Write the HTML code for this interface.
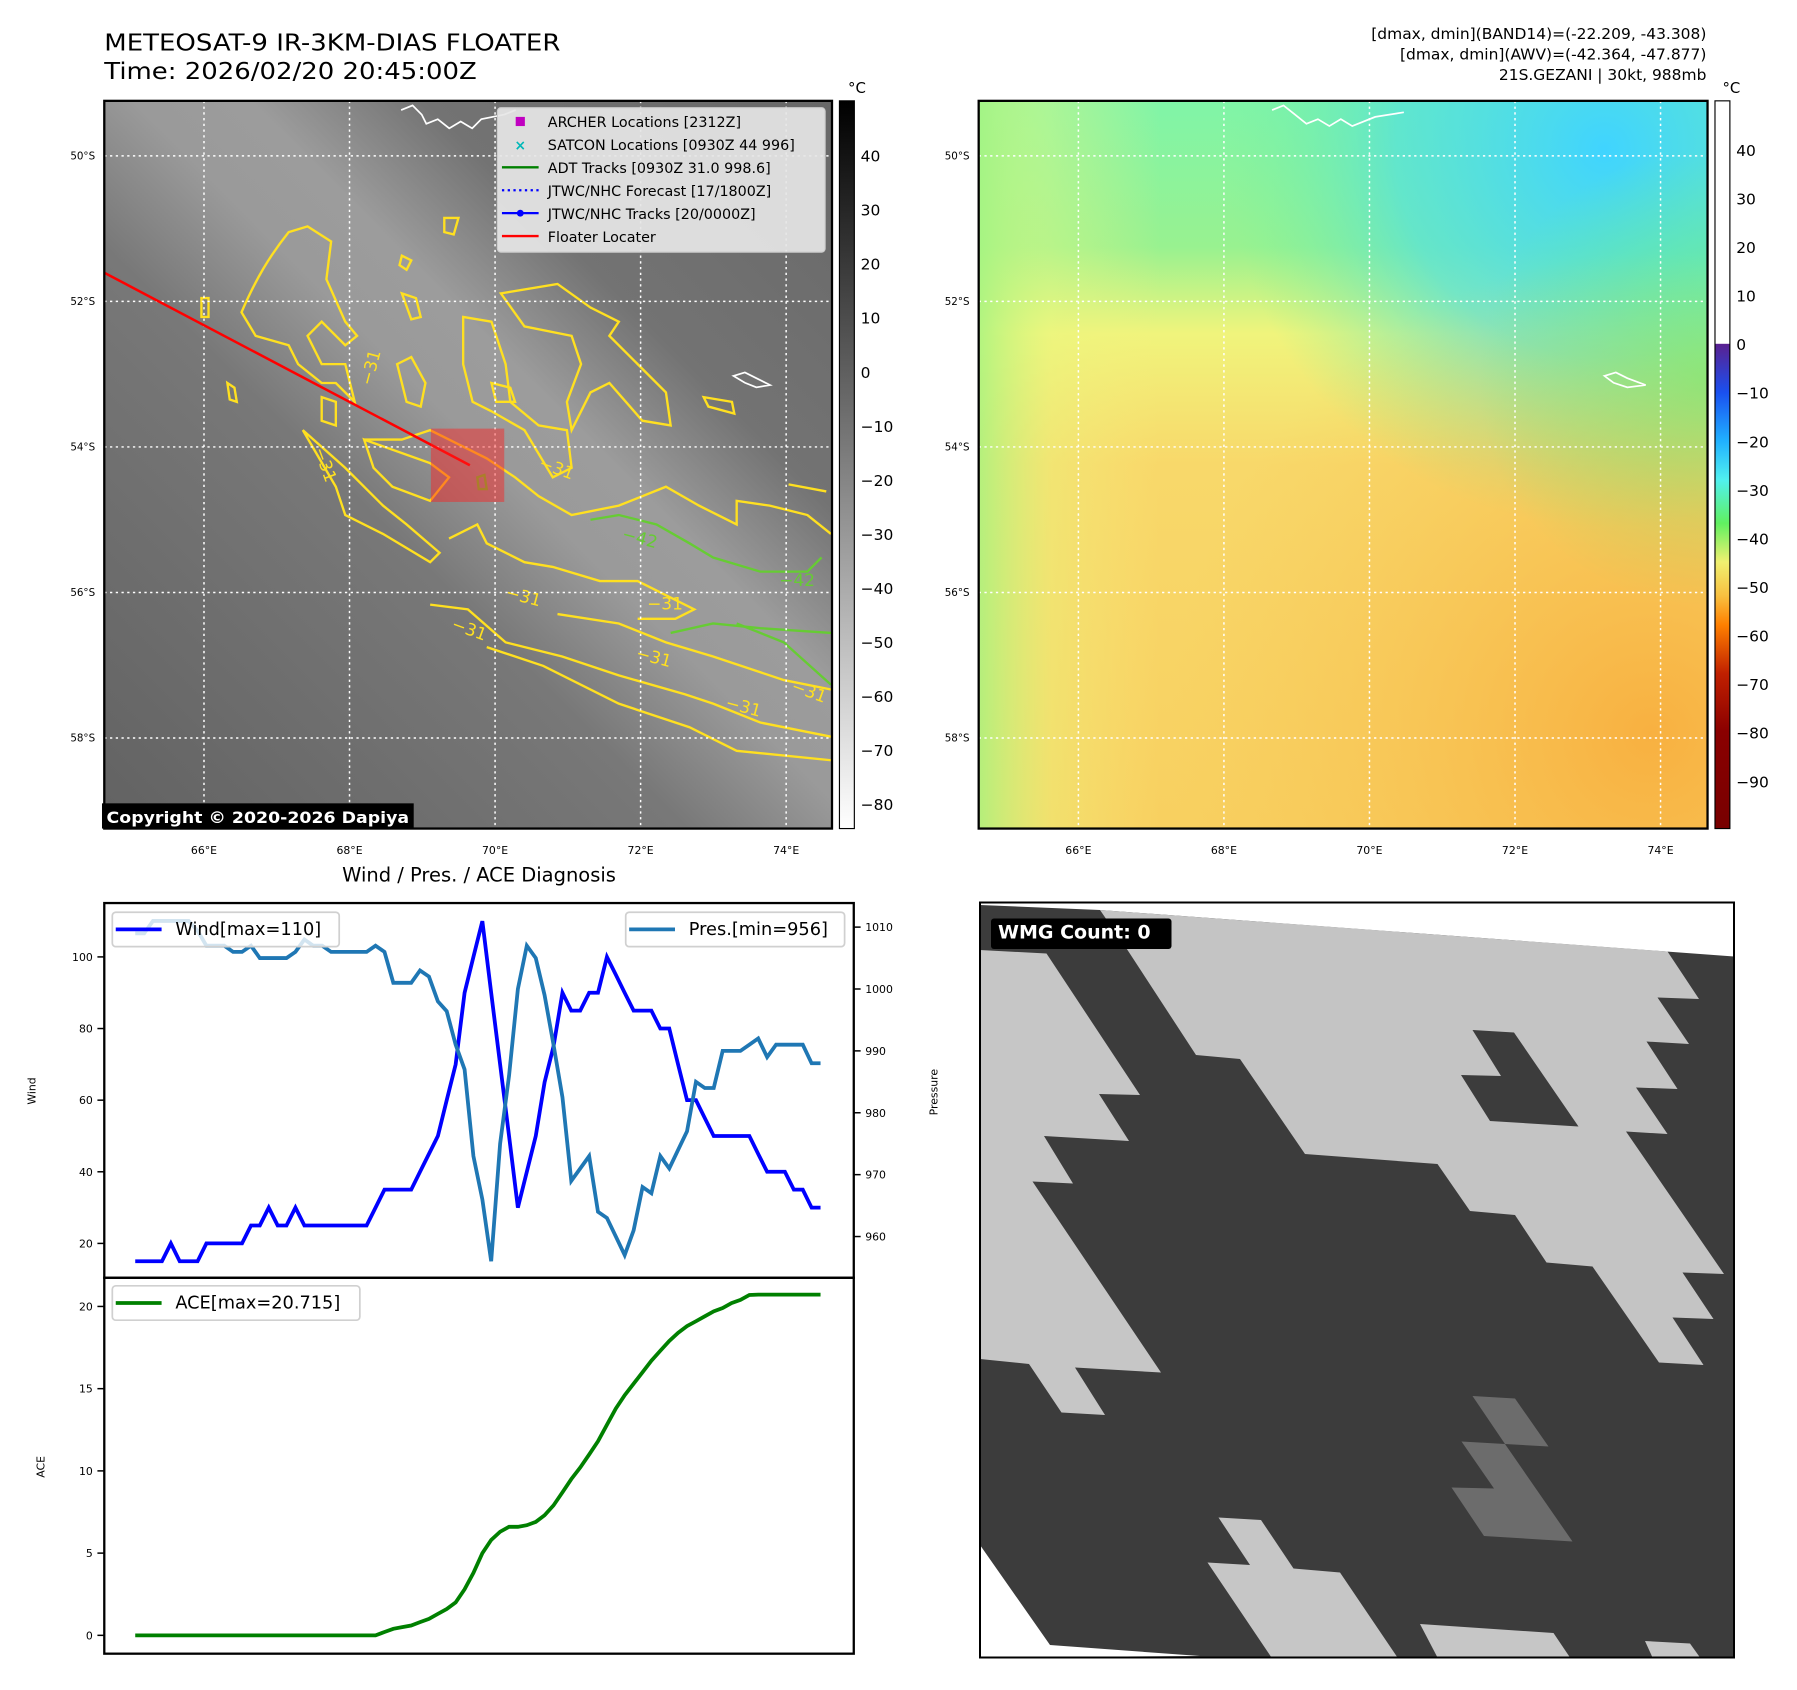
<!DOCTYPE html>
<html><head><meta charset="utf-8"><style>
html,body{margin:0;padding:0;background:#fff}
svg{display:block}
text{font-family:"DejaVu Sans","Liberation Sans",sans-serif}
</style></head><body>
<svg id="fig" width="1797" height="1690" viewBox="0 0 1797 1690" xmlns="http://www.w3.org/2000/svg">
<defs>
<linearGradient id="irbg" x1="1" y1="0" x2="0" y2="1">
<stop offset="0" stop-color="#686868"/><stop offset="0.28" stop-color="#737373"/><stop offset="0.4" stop-color="#9c9c9c"/><stop offset="0.48" stop-color="#9a9a9a"/><stop offset="0.6" stop-color="#787878"/><stop offset="1" stop-color="#626262"/>
</linearGradient>
<linearGradient id="awvbg" x1="0" y1="0" x2="0" y2="1">
<stop offset="0" stop-color="#80f4a8"/><stop offset="0.2" stop-color="#98f290"/><stop offset="0.32" stop-color="#f0f47c"/><stop offset="0.5" stop-color="#f8d86a"/><stop offset="1" stop-color="#f8d060"/>
</linearGradient>
<radialGradient id="awvcyan" cx="1400" cy="130" r="330" gradientUnits="userSpaceOnUse">
<stop offset="0" stop-color="#40d4ff" stop-opacity="1"/><stop offset="0.55" stop-color="#50e0e0" stop-opacity="0.7"/><stop offset="1" stop-color="#70f0a0" stop-opacity="0"/>
</radialGradient>
<radialGradient id="awvorange" cx="1440" cy="640" r="420" gradientUnits="userSpaceOnUse">
<stop offset="0" stop-color="#f8a838" stop-opacity="0.8"/><stop offset="1" stop-color="#f8c050" stop-opacity="0"/>
</radialGradient>
<radialGradient id="awvgreenr" cx="1490" cy="330" r="200" gradientUnits="userSpaceOnUse">
<stop offset="0" stop-color="#70f080" stop-opacity="0.9"/><stop offset="1" stop-color="#70f080" stop-opacity="0"/>
</radialGradient>
<linearGradient id="awvleft" x1="0" y1="0" x2="1" y2="0">
<stop offset="0" stop-color="#a8f480" stop-opacity="0.85"/><stop offset="0.1" stop-color="#e8f880" stop-opacity="0.4"/><stop offset="0.25" stop-color="#f8f080" stop-opacity="0"/>
</linearGradient>
<linearGradient id="cb1" x1="0" y1="0" x2="0" y2="1"><stop offset="0" stop-color="#000"/><stop offset="1" stop-color="#fff"/></linearGradient>
<linearGradient id="cb2" x1="0" y1="0" x2="0" y2="1">
<stop offset="0" stop-color="#5a2090"/><stop offset="0.1" stop-color="#1a50f0"/><stop offset="0.2" stop-color="#20b0ff"/><stop offset="0.28" stop-color="#50f0f0"/><stop offset="0.37" stop-color="#60f060"/><stop offset="0.45" stop-color="#f0f070"/><stop offset="0.52" stop-color="#f8c040"/><stop offset="0.58" stop-color="#ff8000"/><stop offset="0.68" stop-color="#c02000"/><stop offset="0.8" stop-color="#8a0000"/><stop offset="1" stop-color="#780000"/>
</linearGradient>
<clipPath id="clip1"><rect x="91" y="88" width="635" height="635"/></clipPath>
<clipPath id="clip3"><rect x="0" y="5" width="1508" height="1510"/></clipPath>
</defs>

<g transform="scale(1.146)">
<text x="91" y="44" font-size="20" textLength="398" lengthAdjust="spacingAndGlyphs">METEOSAT-9 IR-3KM-DIAS FLOATER</text>
<text x="91" y="69" font-size="20" textLength="325" lengthAdjust="spacingAndGlyphs">Time: 2026/02/20 20:45:00Z</text>
<text x="1489" y="34" font-size="13.5" text-anchor="end">[dmax, dmin](BAND14)=(-22.209, -43.308)</text>
<text x="1489" y="52" font-size="13.5" text-anchor="end">[dmax, dmin](AWV)=(-42.364, -47.877)</text>
<text x="1489" y="70" font-size="13.5" text-anchor="end">21S.GEZANI | 30kt, 988mb</text>

<!-- IR map -->
<g>
<rect x="91" y="88" width="635" height="635" fill="url(#irbg)"/>
<g clip-path="url(#clip1)">
<g transform="translate(87.3,87.3) scale(0.4115)" fill="none" stroke="#ffe020" stroke-width="5">
<path d="M300,450 C330,380 360,330 400,280 L440,268 L490,300 L480,380 L520,470 L545,500 L520,520 L470,470 L440,500 L470,560 L520,560 L540,640 L500,600 L470,600 L420,560 L400,520 L330,500 Z"/>
<path d="M770,460 L830,470 L860,560 L870,640 L930,690 L990,700 L1000,780 L960,800 L900,700 L830,660 L790,640 L770,560 Z"/>
<path d="M850,410 L970,390 L1040,440 L1100,470 L1080,500 L1140,560 L1200,620 L1210,690 L1150,680 L1080,600 L1040,620 L1000,700 L990,640 L1020,560 L1000,500 L900,480 Z"/>
<path d="M430,700 L500,820 L520,880 L600,920 L700,980 L720,960 L650,900 L600,860 L520,780 Z"/>
<path d="M560,720 L640,720 L700,700 L740,720 L820,760 L880,800 L930,840 L1000,880 L1100,860 L1200,820 L1270,860 L1350,900 L1350,850 L1420,860 L1500,880 L1550,920"/>
<path d="M740,930 L800,900 L820,940 L900,980 L960,990 L1060,1020 L1140,1020 L1260,1080 L1220,1100 L1140,1100"/>
<path d="M700,1070 L780,1080 L860,1150 L980,1180 L1100,1220 L1240,1260 L1300,1280 L1400,1320 L1550,1350"/>
<path d="M820,1160 L940,1200 L1100,1280 L1250,1330 L1350,1380 L1550,1400"/>
<path d="M970,1090 L1100,1110 L1200,1150 L1300,1180 L1450,1230 L1550,1250"/>
<path d="M630,560 L660,545 L690,600 L680,650 L650,640 Z"/>
<path d="M640,330 L660,340 L650,360 L635,350 Z"/>
<path d="M640,410 L670,420 L680,460 L660,465 Z"/>
<path d="M730,250 L760,250 L750,285 L730,280 Z"/>
<path d="M1280,630 L1340,640 L1345,665 L1290,650 Z"/>
<path d="M560,720 L700,770 L740,800 L700,850 L620,820 L580,780 Z"/>
<path d="M470,630 L500,640 L500,690 L470,680 Z"/>
<path d="M1460,815 L1540,830"/>
<path d="M830,600 L870,610 L880,640 L840,640 Z"/>
<path d="M215,420 L230,420 L230,460 L215,460 Z"/>
<path d="M270,600 L285,610 L290,640 L275,635 Z"/>
</g>
<g transform="translate(87.3,87.3) scale(0.4115)" fill="none" stroke="#66cc33" stroke-width="5">
<path d="M1040,890 L1100,880 L1180,900 L1250,940 L1300,970 L1400,1000 L1500,1000 L1530,970"/>
<path d="M1210,1130 L1300,1110 L1400,1120 L1550,1130"/>
<path d="M1350,1110 L1450,1150 L1550,1240"/>
<path d="M800,800 L815,795 L820,825 L803,825 Z"/>
</g>
<g transform="translate(87.3,87.3) scale(0.4115)" font-size="36" fill="#ffe020">
<text x="555" y="600" transform="rotate(-75 570 590)">−31</text>
<text x="440" y="760" transform="rotate(70 460 760)">−31</text>
<text x="930" y="790" transform="rotate(20 960 780)">−31</text>
<text x="860" y="1060" transform="rotate(15 880 1050)">−31</text>
<text x="1160" y="1080">−31</text>
<text x="745" y="1130" transform="rotate(20 770 1120)">−31</text>
<text x="1135" y="1190" transform="rotate(15 1160 1185)">−31</text>
<text x="1325" y="1295" transform="rotate(15 1350 1290)">−31</text>
<text x="1465" y="1265" transform="rotate(20 1500 1255)">−31</text>
<text x="1105" y="940" fill="#66cc33" transform="rotate(15 1140 935)">−42</text>
<text x="1440" y="1030" fill="#66cc33">−42</text>
</g>
<path d="M350,96 L360,92 L368,100 L372,108 L382,104 L392,112 L402,106 L412,112 L420,104 L440,100 L450,96 M640,328 L650,325 L660,330 L672,336 L660,338 L650,334 Z" fill="none" stroke="#fff" stroke-width="1.5"/>
<g stroke="#fff" stroke-width="1.3" stroke-dasharray="2,3">
<line x1="91" y1="136" x2="726" y2="136"/><line x1="91" y1="263" x2="726" y2="263"/><line x1="91" y1="390" x2="726" y2="390"/><line x1="91" y1="517" x2="726" y2="517"/><line x1="91" y1="644" x2="726" y2="644"/>
<line x1="178" y1="88" x2="178" y2="723"/><line x1="305" y1="88" x2="305" y2="723"/><line x1="432" y1="88" x2="432" y2="723"/><line x1="559" y1="88" x2="559" y2="723"/><line x1="686" y1="88" x2="686" y2="723"/>
</g>
<line x1="91" y1="238" x2="410" y2="406" stroke="#ff0000" stroke-width="2.2"/>
<rect x="376" y="374" width="64" height="64" fill="#ff2020" fill-opacity="0.45"/>
</g>
</g>
<g>
<rect x="434" y="94" width="286" height="126" rx="3" fill="#e6e6e6" fill-opacity="0.92" stroke="#ccc"/>
<rect x="450" y="102" width="8" height="8" fill="#c000c0"/>
<text x="454" y="131" font-size="12" fill="#00b8b8" text-anchor="middle" font-weight="bold">×</text>
<line x1="438" y1="146" x2="470" y2="146" stroke="#008000" stroke-width="2"/>
<line x1="438" y1="166" x2="470" y2="166" stroke="#0000ff" stroke-width="2" stroke-dasharray="2,3"/>
<line x1="438" y1="186" x2="470" y2="186" stroke="#0000ff" stroke-width="2"/><circle cx="454" cy="186" r="3" fill="#0000ff"/>
<line x1="438" y1="206" x2="470" y2="206" stroke="#ff0000" stroke-width="2"/>
<g font-size="12.5">
<text x="478" y="111">ARCHER Locations [2312Z]</text>
<text x="478" y="131">SATCON Locations [0930Z 44 996]</text>
<text x="478" y="151">ADT Tracks [0930Z 31.0 998.6]</text>
<text x="478" y="171">JTWC/NHC Forecast [17/1800Z]</text>
<text x="478" y="191">JTWC/NHC Tracks [20/0000Z]</text>
<text x="478" y="211">Floater Locater</text>
</g></g>
<rect x="91" y="88" width="635" height="635" fill="none" stroke="#000" stroke-width="2"/>
<rect x="89" y="701" width="272" height="22" fill="#000"/>
<text x="93" y="718" font-size="14" font-weight="bold" fill="#fff" textLength="264" lengthAdjust="spacingAndGlyphs">Copyright © 2020-2026 Dapiya</text>

<!-- AWV map -->
<g>
<rect x="854" y="88" width="636" height="635" fill="url(#awvbg)"/>
<rect x="854" y="88" width="636" height="635" fill="url(#awvcyan)"/>
<rect x="854" y="88" width="636" height="635" fill="url(#awvgreenr)"/>
<rect x="854" y="88" width="636" height="635" fill="url(#awvleft)"/>
<rect x="854" y="88" width="636" height="635" fill="url(#awvorange)"/>
<path d="M1110,96 L1120,92 L1130,100 L1140,108 L1150,104 L1160,110 L1170,104 L1180,110 L1200,102 L1225,98 M1400,328 L1410,325 L1420,330 L1436,336 L1420,338 L1408,334 Z" fill="none" stroke="#fff" stroke-width="1.5"/>
<g stroke="#fff" stroke-width="1.3" stroke-dasharray="2,3">
<line x1="854" y1="136" x2="1490" y2="136"/><line x1="854" y1="263" x2="1490" y2="263"/><line x1="854" y1="390" x2="1490" y2="390"/><line x1="854" y1="517" x2="1490" y2="517"/><line x1="854" y1="644" x2="1490" y2="644"/>
<line x1="941" y1="88" x2="941" y2="723"/><line x1="1068" y1="88" x2="1068" y2="723"/><line x1="1195" y1="88" x2="1195" y2="723"/><line x1="1322" y1="88" x2="1322" y2="723"/><line x1="1449" y1="88" x2="1449" y2="723"/>
</g>
<rect x="854" y="88" width="636" height="635" fill="none" stroke="#000" stroke-width="2"/>
</g>

<g font-size="9" text-anchor="end">
<text x="83" y="139">50°S</text><text x="83" y="266">52°S</text><text x="83" y="393">54°S</text><text x="83" y="520">56°S</text><text x="83" y="647">58°S</text>
<text x="846" y="139">50°S</text><text x="846" y="266">52°S</text><text x="846" y="393">54°S</text><text x="846" y="520">56°S</text><text x="846" y="647">58°S</text>
</g>
<g font-size="9.5" text-anchor="middle">
<text x="178" y="745">66°E</text><text x="305" y="745">68°E</text><text x="432" y="745">70°E</text><text x="559" y="745">72°E</text><text x="686" y="745">74°E</text>
<text x="941" y="745">66°E</text><text x="1068" y="745">68°E</text><text x="1195" y="745">70°E</text><text x="1322" y="745">72°E</text><text x="1449" y="745">74°E</text>
</g>

<!-- colorbars -->
<g>
<rect x="732.5" y="88" width="13" height="635" fill="url(#cb1)" stroke="#000" stroke-width="1"/>
<text x="740" y="81" font-size="13">°C</text>
<g font-size="13.5" id="cb1labels"></g>
</g>
<g>
<rect x="1496.5" y="88" width="13" height="212" fill="#fff"/>
<rect x="1496.5" y="300" width="13" height="423" fill="url(#cb2)"/>
<rect x="1496.5" y="88" width="13" height="635" fill="none" stroke="#000" stroke-width="1"/>
<text x="1503" y="81" font-size="13">°C</text>
<g font-size="13.5" id="cb2labels"></g>
</g>

<!-- Diagnosis -->
<text x="418" y="769" font-size="17" text-anchor="middle">Wind / Pres. / ACE Diagnosis</text>
<g id="chart"></g>
</g>

<!-- WMG panel in original coords -->
<g transform="translate(980,900) scale(0.5)">
<g clip-path="url(#clip3)">
<rect x="0" y="5" width="1508" height="1510" fill="#3c3c3c"/>
<polygon points="0,5 1508,5 1508,113 240,20 0,10" fill="#fff"/>
<polygon points="0,1290 140,1490 440,1512 0,1515" fill="#fff"/>
<polygon points="240,20 1375,103 1438,198 1355,195 1418,288 1333,283 1395,378 1312,375 1375,468 1292,463 1488,748 1405,745 1467,838 1385,835 1447,930 1358,925 1225,733 1133,725 1070,630 980,622 915,528 650,508 520,318 432,310 295,100" fill="#c4c4c4"/>
<polygon points="985,260 1068,265 1197,453 1020,442 962,350 1042,352" fill="#3c3c3c"/>
<polygon points="0,100 133,107 320,390 238,388 298,482 128,472 186,567 105,563 362,945 190,935 250,1030 163,1025 98,928 0,918" fill="#c6c6c6"/>
<polygon points="477,1235 562,1240 627,1337 720,1345 835,1515 583,1515 455,1325 540,1330" fill="#c6c6c6"/>
<polygon points="880,1448 1147,1466 1180,1515 915,1515" fill="#c6c6c6"/>
<polygon points="1330,1482 1420,1487 1440,1515 1345,1515" fill="#c6c6c6"/>
<polygon points="985,992 1070,997 1137,1093 1050,1088 1185,1283 1008,1272 943,1175 1028,1177 963,1083 1050,1088" fill="#6c6c6c"/>
</g>
<rect x="0" y="5" width="1508" height="1510" fill="none" stroke="#000" stroke-width="4"/>
<rect x="22" y="37" width="361" height="61" rx="6" fill="#000"/>
<text x="36" y="77" font-size="38" font-weight="bold" fill="#fff">WMG Count: 0</text>
</g>
</svg>
<script>
const wind = [15,15,15,15,20,15,15,15,20,20,20,20,20,25,25,30,25,25,30,25,25,25,25,25,25,25,25,30,35,35,35,35,40,45,50,60,70,90,100,110,90,70,50,30,40,50,65,75,90,85,85,90,90,100,95,90,85,85,85,80,80,70,60,60,55,50,50,50,50,50,45,40,40,40,35,35,30,30];
const pres = [1009,1009,1011,1011,1011,1011,1011,1009.4,1007,1007,1007,1006,1006,1007,1005,1005,1005,1005,1006,1008,1007,1007,1006,1006,1006,1006,1006,1007,1006,1001,1001,1001,1003,1002,998,996.4,991,987,973,966,956,975,986,1000,1007,1005,999,991,982.5,969,971,973,964,963,960,957,961,968,967,973,971,974,977,985,984,984,990,990,990,991,992,989,991,991,991,991,988,988];
const ace = [0,0,0,0,0,0,0,0,0,0,0,0,0,0,0,0,0,0,0,0,0,0,0,0,0,0,0,0,0.2,0.4,0.5,0.6,0.8,1.0,1.3,1.6,2.0,2.8,3.8,5.0,5.8,6.3,6.6,6.6,6.7,6.9,7.3,7.9,8.7,9.5,10.2,11.0,11.8,12.8,13.8,14.6,15.3,16.0,16.7,17.3,17.9,18.4,18.8,19.1,19.4,19.7,19.9,20.2,20.4,20.7,20.715,20.715,20.715,20.715,20.715,20.715,20.715,20.715];
const windTicks = [20,40,60,80,100];
const presTicks = [960,970,980,990,1000,1010];
const aceTicks = [0,5,10,15,20];
const irCbTicks = [40,30,20,10,0,-10,-20,-30,-40,-50,-60,-70,-80];
const awvCbTicks = [40,30,20,10,0,-10,-20,-30,-40,-50,-60,-70,-80,-90];

const NS = 'http://www.w3.org/2000/svg';
function mk(tag, attrs, parent){const e=document.createElementNS(NS,tag);for(const k in attrs)e.setAttribute(k,attrs[k]);parent.appendChild(e);return e;}
const X0=118, X1=716;
const xi = i => X0 + i*(X1-X0)/(wind.length-1);
const yW = w => 1085 - (w-20)*(250/80);
const yP = p => 1079 - (p-960)*(270/50);
const yA = a => 1427 - a*(287/20);
const fmt = v => (v<0?'\u2212'+(-v):''+v);

const cb1 = document.getElementById('cb1labels');
irCbTicks.forEach(v=>{const y=136+(40-v)*(566/120);
 const t=mk('text',{x:751,y:y+5},cb1);t.textContent=fmt(v);
 
 });
const cb2 = document.getElementById('cb2labels');
awvCbTicks.forEach(v=>{const y=131+(40-v)*(551/130);
 const t=mk('text',{x:1515,y:y+5},cb2);t.textContent=fmt(v);
 
 });

const g = document.getElementById('chart');
const f1=mk('rect',{x:91,y:788,width:654,height:327,fill:'none',stroke:'#000','stroke-width':2},g);


const f2=mk('rect',{x:91,y:1115,width:654,height:328,fill:'none',stroke:'#000','stroke-width':2},g);



windTicks.forEach(v=>{const y=yW(v);
 const l=mk('line',{x1:85,y1:y,x2:91,y2:y,stroke:'#000','stroke-width':1.3},g);
 
 
 const t=mk('text',{x:81,y:y+3.5,'font-size':9.5,'text-anchor':'end'},g);t.textContent=v;
 
 });
presTicks.forEach(v=>{const y=yP(v);
 const l=mk('line',{x1:745,y1:y,x2:751,y2:y,stroke:'#000','stroke-width':1.3},g);
 
 
 const t=mk('text',{x:755,y:y+3.5,'font-size':9.5},g);t.textContent=v;
 
 });
aceTicks.forEach(v=>{const y=yA(v);
 const l=mk('line',{x1:85,y1:y,x2:91,y2:y,stroke:'#000','stroke-width':1.3},g);
 
 
 const t=mk('text',{x:81,y:y+3.5,'font-size':9.5,'text-anchor':'end'},g);t.textContent=v;
 
 });

const lw=mk('text',{x:31,y:952,'font-size':9.5,'text-anchor':'middle',transform:'rotate(-90 31 952)'},g);lw.textContent='Wind';


const lp=mk('text',{x:818,y:953,'font-size':9.5,'text-anchor':'middle',transform:'rotate(-90 818 953)'},g);lp.textContent='Pressure';


const la=mk('text',{x:39,y:1280,'font-size':9.5,'text-anchor':'middle',transform:'rotate(-90 39 1280)'},g);la.textContent='ACE';



function pts(arr, fy){return arr.map((v,i)=>xi(i).toFixed(1)+','+fy(v).toFixed(1)).join(' ');}
const pl1=mk('polyline',{points:pts(wind,yW),fill:'none',stroke:'#0000ff','stroke-width':3.3},g);


const pl2=mk('polyline',{points:pts(pres,yP),fill:'none',stroke:'#1f77b4','stroke-width':3.3},g);


const pl3=mk('polyline',{points:pts(ace,yA),fill:'none',stroke:'#008000','stroke-width':3.3},g);



function legend(x,y,w,color,label,name){
 const r=mk('rect',{x:x,y:y,width:w,height:30,rx:3,fill:'#fff','fill-opacity':0.8,stroke:'#d0d0d0','stroke-width':1.5},g);
 
 
 mk('line',{x1:x+3,y1:y+15,x2:x+43,y2:y+15,stroke:color,'stroke-width':3.3},g);
 const t=mk('text',{x:x+55,y:y+20,'font-size':15.5},g);t.textContent=label;
 
 
}
legend(98,796,198,'#0000ff','Wind[max=110]','wind-legend');
legend(546,796,191,'#1f77b4','Pres.[min=956]','pressure-legend');
legend(98,1122,216,'#008000','ACE[max=20.715]','ace-legend');
</script>
</body></html>
